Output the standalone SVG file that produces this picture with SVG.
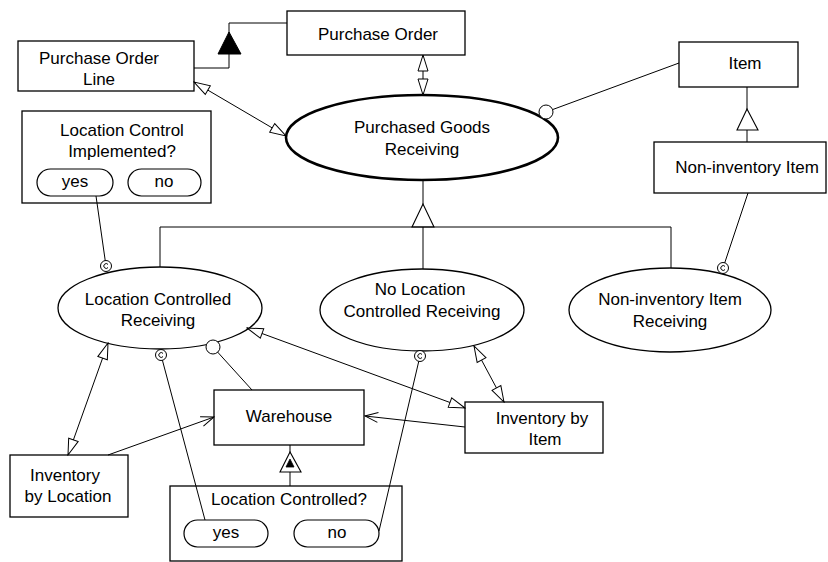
<svg xmlns="http://www.w3.org/2000/svg" width="828" height="562" viewBox="0 0 828 562">
<style>
.box{fill:#fff;stroke:#000;stroke-width:1.3}
.pill{fill:#fff;stroke:#000;stroke-width:1.2}
.ell{fill:#fff;stroke:#000;stroke-width:1.3}
.ellb{fill:#fff;stroke:#000;stroke-width:2.6}
.ln{fill:none;stroke:#000;stroke-width:1}
.t{font-family:"Liberation Sans",Arial,sans-serif;font-size:17px;fill:#000;text-anchor:middle}
.rc{fill:#fff;stroke:#000;stroke-width:1}
.tri{fill:#fff;stroke:#000;stroke-width:1.1}
</style>
<defs>
<marker id="otri" viewBox="-1 -7 18 14" refX="16" refY="0" markerWidth="18" markerHeight="14" markerUnits="userSpaceOnUse" orient="auto-start-reverse">
<path d="M0,-5 L16,0 L0,5 Z" fill="#fff" stroke="#000" stroke-width="1"/>
</marker>
<marker id="vopen" viewBox="-1 -7 15 14" refX="13" refY="0" markerWidth="15" markerHeight="14" markerUnits="userSpaceOnUse" orient="auto">
<path d="M0,-5 L13,0 L0,5" fill="none" stroke="#000" stroke-width="1"/>
</marker>
<g id="csym">
<circle r="5.5" fill="#fff" stroke="#000" stroke-width="1"/>
<path d="M2,-1.6 A2.4,2.4 0 1 0 2,1.6" fill="none" stroke="#000" stroke-width="1"/>
</g>
</defs>
<rect width="828" height="562" fill="#fff"/>

<g id="pol">
<rect class="box" x="18" y="41" width="176" height="50"/>
<text class="t" x="99" y="64">Purchase Order</text>
<text class="t" x="99" y="85">Line</text>
</g>
<g id="po">
<rect class="box" x="287" y="11" width="178" height="44"/>
<text class="t" x="378" y="40">Purchase Order</text>
</g>
<g id="pgr">
<ellipse class="ellb" cx="422" cy="137.5" rx="136" ry="42.5"/>
<text class="t" x="422" y="133">Purchased Goods</text>
<text class="t" x="422" y="155">Receiving</text>
</g>
<g id="item">
<rect class="box" x="679" y="42" width="119" height="45"/>
<text class="t" x="745" y="69">Item</text>
</g>
<g id="nii">
<rect class="box" x="654" y="142" width="172" height="51"/>
<text class="t" x="747" y="173">Non-inventory Item</text>
</g>
<g id="lci">
<rect class="box" x="22" y="111" width="189" height="92"/>
<text class="t" x="122" y="136">Location Control</text>
<text class="t" x="122" y="157">Implemented?</text>
<rect class="pill" x="37" y="169" width="76" height="27" rx="13.5"/>
<text class="t" x="75" y="187">yes</text>
<rect class="pill" x="128" y="169" width="73" height="27" rx="13.5"/>
<text class="t" x="164" y="187">no</text>
</g>
<g id="lcr">
<ellipse class="ell" cx="160" cy="308" rx="102" ry="41"/>
<text class="t" x="158" y="305">Location Controlled</text>
<text class="t" x="158" y="326">Receiving</text>
</g>
<g id="nlcr">
<ellipse class="ell" cx="422" cy="310" rx="102" ry="41"/>
<text class="t" x="420" y="295">No Location</text>
<text class="t" x="422" y="317">Controlled Receiving</text>
</g>
<g id="nir">
<ellipse class="ell" cx="670" cy="310" rx="101" ry="42"/>
<text class="t" x="670" y="305">Non-inventory Item</text>
<text class="t" x="670" y="327">Receiving</text>
</g>
<g id="ibl">
<rect class="box" x="10" y="455" width="118" height="62"/>
<text class="t" x="65" y="481">Inventory</text>
<text class="t" x="68" y="502">by Location</text>
</g>
<g id="warehouse">
<rect class="box" x="214" y="390" width="150" height="55"/>
<text class="t" x="289" y="422">Warehouse</text>
</g>
<g id="ibi">
<rect class="box" x="465" y="402" width="138" height="51"/>
<text class="t" x="542" y="424">Inventory by</text>
<text class="t" x="545" y="445">Item</text>
</g>
<g id="lc">
<rect class="box" x="170" y="486" width="232" height="75"/>
<text class="t" x="289" y="505">Location Controlled?</text>
<rect class="pill" x="184" y="520" width="84" height="27" rx="13.5"/>
<text class="t" x="226" y="538">yes</text>
<rect class="pill" x="294" y="520" width="85" height="27" rx="13.5"/>
<text class="t" x="337" y="538">no</text>
</g>

<g id="connectors">
<path class="ln" d="M194,68 H229 V23 H287"/>
<polygon points="229,32 218,54 241,54" fill="#000" stroke="#000"/>
<line class="ln" x1="423" y1="55" x2="423" y2="95" marker-start="url(#otri)" marker-end="url(#otri)"/>
<line class="ln" x1="194" y1="82" x2="286" y2="136" marker-start="url(#otri)" marker-end="url(#otri)"/>
<line class="ln" x1="679" y1="63" x2="546" y2="112"/>
<circle class="rc" cx="546" cy="112" r="7"/>
<line class="ln" x1="747" y1="87" x2="747" y2="142"/>
<polygon class="tri" points="747,109 737,130 758,130"/>
<line class="ln" x1="423" y1="181" x2="423" y2="269"/>
<polygon class="tri" points="423,204 412,227 434,227"/>
<path class="ln" d="M160,267 V227 H671 V268"/>
<line class="ln" x1="748" y1="193" x2="723" y2="268"/>
<use href="#csym" x="723" y="268"/>
<line class="ln" x1="96" y1="196" x2="106" y2="266"/>
<use href="#csym" x="106" y="266"/>
<line class="ln" x1="108" y1="343" x2="68" y2="455" marker-start="url(#otri)" marker-end="url(#otri)"/>
<line class="ln" x1="108" y1="455" x2="214" y2="417" marker-end="url(#vopen)"/>
<line class="ln" x1="161" y1="355" x2="205" y2="520"/>
<use href="#csym" x="161" y="355"/>
<line class="ln" x1="213" y1="347" x2="252" y2="390"/>
<circle class="rc" cx="213" cy="347" r="7"/>
<line class="ln" x1="247" y1="328" x2="465" y2="408" marker-start="url(#otri)" marker-end="url(#otri)"/>
<line class="ln" x1="465" y1="427" x2="365" y2="416" marker-end="url(#vopen)"/>
<line class="ln" x1="474" y1="346" x2="504" y2="402" marker-start="url(#otri)" marker-end="url(#otri)"/>
<line class="ln" x1="379" y1="531" x2="420" y2="356"/>
<use href="#csym" x="420" y="356"/>
<line class="ln" x1="290" y1="445" x2="290" y2="486"/>
<polygon class="tri" points="290,452 280,472 301,472"/>
<polygon points="290,459 286,467 294,467" fill="#000" stroke="#000" stroke-width="0.8"/>
</g>
</svg>
